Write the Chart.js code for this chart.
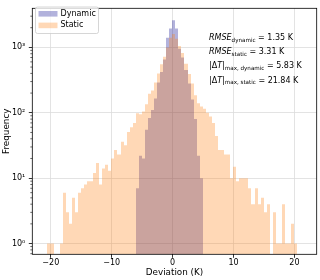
<!DOCTYPE html>
<html>
<head>
<meta charset="utf-8">
<script src="https://cdn.jsdelivr.net/npm/chart.js@4.4.1/dist/chart.umd.min.js"></script>
<style>
  html, body { margin: 0; padding: 0; background: #fff; }
</style>
</head>
<body>
<canvas id="hist" width="320" height="280"></canvas>
<script>
'use strict'
// bin centres (K) and counts
const staticCenters = [-20.3, -19.8, -19.3, -18.8, -18.3, -17.8, -17.3, -16.8, -16.3, -15.8,
  -15.3, -14.8, -14.3, -13.8, -13.3, -12.8, -12.3, -11.8, -11.3, -10.8,
  -10.3, -9.8, -9.3, -8.8, -8.3, -7.8, -7.3, -6.8, -6.3, -5.8,
  -5.3, -4.8, -4.3, -3.8, -3.3, -2.8, -2.3, -1.8, -1.3, -0.8,
  -0.3, 0.2, 0.7, 1.2, 1.7, 2.2, 2.7, 3.2, 3.7, 4.2,
  4.7, 5.2, 5.7, 6.2, 6.7, 7.2, 7.7, 8.2, 8.7, 9.2,
  9.7, 10.2, 10.7, 11.2, 11.7, 12.2, 12.7, 13.2, 13.7, 14.2,
  14.7, 15.2, 15.7, 16.2, 16.7, 17.2, 17.7, 18.2, 18.7, 19.2,
  19.7, 20.2];
const staticCounts = [1, 1, 0, 0, 1, 6, 3, 2, 5, 3,
  6, 7, 8, 9, 9, 12, 17, 8, 14, 16,
  13, 20, 27, 23, 36, 32, 51, 60, 70, 98,
  95, 105, 135, 195, 220, 290, 400, 550, 720, 1000,
  1400, 1600, 1350, 1050, 820, 560, 390, 280, 185, 140,
  125, 115, 100, 88, 70, 44, 27, 27, 23, 23,
  10, 15, 9, 10, 10, 10, 7, 4, 7, 4,
  5, 3, 4, 0, 3, 1, 1, 4, 1, 1,
  2, 1];
const dynamicCenters = [-5.8, -5.3, -4.8, -4.3, -3.8, -3.3, -2.8, -2.3, -1.8, -1.3, -0.8,
  -0.3, 0.2, 0.7, 1.2, 1.7, 2.2, 2.7, 3.2, 3.7, 4.2, 4.7];
const dynamicCounts = [7, 22, 20, 55, 83, 110, 165, 290, 420, 650, 1400,
  1950, 2600, 1950, 950, 700, 450, 280, 160, 80, 22, 10];

const seriesNames = ['Dynamic', 'Static'];
const seriesColors = ['rgba(0, 0, 139, 0.3)', 'rgba(255, 127, 14, 0.3)'];
const xTickValues = [-20, -10, 0, 10, 20];
const xTickLabels = ['−20', '−10', '0', '10', '20'];
const yTickValues = [1, 10, 100, 1000];
const yTickLabels = ['10⁰', '10¹', '10²', '10³'];
// text runs: n = normal, i = italic, s = subscript
const statLines = [
  [['RMSE', 'i'], ['dynamic', 's'], [' = 1.35 K', 'n']],
  [['RMSE', 'i'], ['static', 's'], [' = 3.31 K', 'n']],
  [['|Δ', 'n'], ['T', 'i'], ['|', 'n'], ['max, dynamic', 's'], [' = 5.83 K', 'n']],
  [['|Δ', 'n'], ['T', 'i'], ['|', 'n'], ['max, static', 's'], [' = 21.84 K', 'n']]
];

const FONT = "'DejaVu Sans', sans-serif";
Chart.defaults.font.family = FONT;
Chart.defaults.font.size = 8;
Chart.defaults.color = '#000';

const toPoints = (xs, ys) => xs.map((x, i) => ({x: x, y: ys[i]}));

function drawRuns(c, runs, x, y, size) {
  for (const [t, k] of runs) {
    const sub = k === 's';
    const fs = sub ? size * 0.7 : size;
    c.font = (k === 'i' ? 'italic ' : '') + fs + 'px ' + FONT;
    c.fillText(t, x, sub ? y + size * 0.22 : y);
    x += c.measureText(t).width;
  }
}

const histExtras = {
  id: 'histExtras',
  beforeDatasetsDraw(chart) {
    // snap bar edges to whole pixels so neighbouring bins do not leave seams
    chart.getSortedVisibleDatasetMetas().forEach(meta => {
      meta.data.forEach(el => {
        const l = Math.round(el.x - el.width / 2);
        const r = Math.round(el.x + el.width / 2);
        el.x = (l + r) / 2;
        el.width = r - l;
      });
    });
  },
  afterDraw(chart) {
    const c = chart.ctx, a = chart.chartArea, ys = chart.scales.y;
    c.save();
    // minor ticks on the log axis
    c.strokeStyle = '#000';
    c.lineWidth = 0.6;
    for (let d = -1; d < 4; d++) {
      for (let m = 2; m < 10; m++) {
        const v = m * Math.pow(10, d);
        if (v < ys.min || v > ys.max) continue;
        const py = ys.getPixelForValue(v);
        c.beginPath(); c.moveTo(a.left - 2, py); c.lineTo(a.left, py); c.stroke();
      }
    }
    // frame
    c.lineWidth = 0.8;
    c.strokeRect(a.left, a.top, a.right - a.left, a.bottom - a.top);

    // legend box
    c.fillStyle = 'rgba(255,255,255,0.8)';
    c.strokeStyle = '#cccccc';
    c.lineWidth = 0.8;
    c.beginPath();
    c.roundRect(35.5, 7, 63, 26.5, 2);
    c.fill(); c.stroke();
    c.font = '8px ' + FONT;
    c.textBaseline = 'middle';
    seriesNames.forEach((name, i) => {
      const cy = 13.8 + i * 11.6;
      c.fillStyle = seriesColors[i];
      c.fillRect(38.5, cy - 2.8, 19, 5.6);
      c.fillStyle = '#000';
      c.fillText(name, 60.5, cy);
    });

    // statistics text
    c.textBaseline = 'alphabetic';
    c.fillStyle = '#000';
    statLines.forEach((runs, i) => drawRuns(c, runs, 209, 40 + i * 14.2, 8));
    c.restore();
  }
};

const gridOpts = {
  color: '#dcdcdc',
  lineWidth: 0.8,
  tickColor: '#000',
  tickLength: 3.5,
  tickWidth: 0.8,
  offset: false
};

new Chart(document.getElementById('hist'), {
  type: 'bar',
  data: {
    datasets: [
      {label: seriesNames[1], data: toPoints(staticCenters, staticCounts), backgroundColor: seriesColors[1]},
      {label: seriesNames[0], data: toPoints(dynamicCenters, dynamicCounts), backgroundColor: seriesColors[0]}
    ]
  },
  options: {
    responsive: false,
    animation: false,
    events: [],
    layout: {padding: {top: 2.7, right: 3.3, left: 0, bottom: 0}},
    datasets: {
      bar: {grouped: false, barPercentage: 1, categoryPercentage: 1, borderWidth: 0, inflateAmount: 0}
    },
    plugins: {legend: {display: false}, tooltip: {enabled: false}},
    scales: {
      x: {
        type: 'linear',
        offset: false,
        min: -23.04,
        max: 23.66,
        afterBuildTicks: s => { s.ticks = xTickValues.map(v => ({value: v})); },
        ticks: {callback: (v, i) => xTickLabels[i], padding: 0.5, maxRotation: 0, autoSkip: false},
        grid: gridOpts,
        border: {display: false},
        title: {display: true, text: 'Deviation (K)', font: {size: 8.8}, padding: {top: 0, bottom: 2}},
        afterFit: s => { s.height = 25.7; }
      },
      y: {
        type: 'logarithmic',
        min: 0.685,
        max: 3960,
        afterBuildTicks: s => { s.ticks = yTickValues.map(v => ({value: v})); },
        ticks: {callback: (v, i) => yTickLabels[i], padding: 3.5, autoSkip: false},
        grid: gridOpts,
        border: {display: false},
        title: {display: true, text: 'Frequency', font: {size: 8.8}, padding: {top: 1.2, bottom: 0}},
        afterFit: s => { s.width = 32.3; }
      }
    }
  },
  plugins: [histExtras]
});
</script>
</body>
</html>
